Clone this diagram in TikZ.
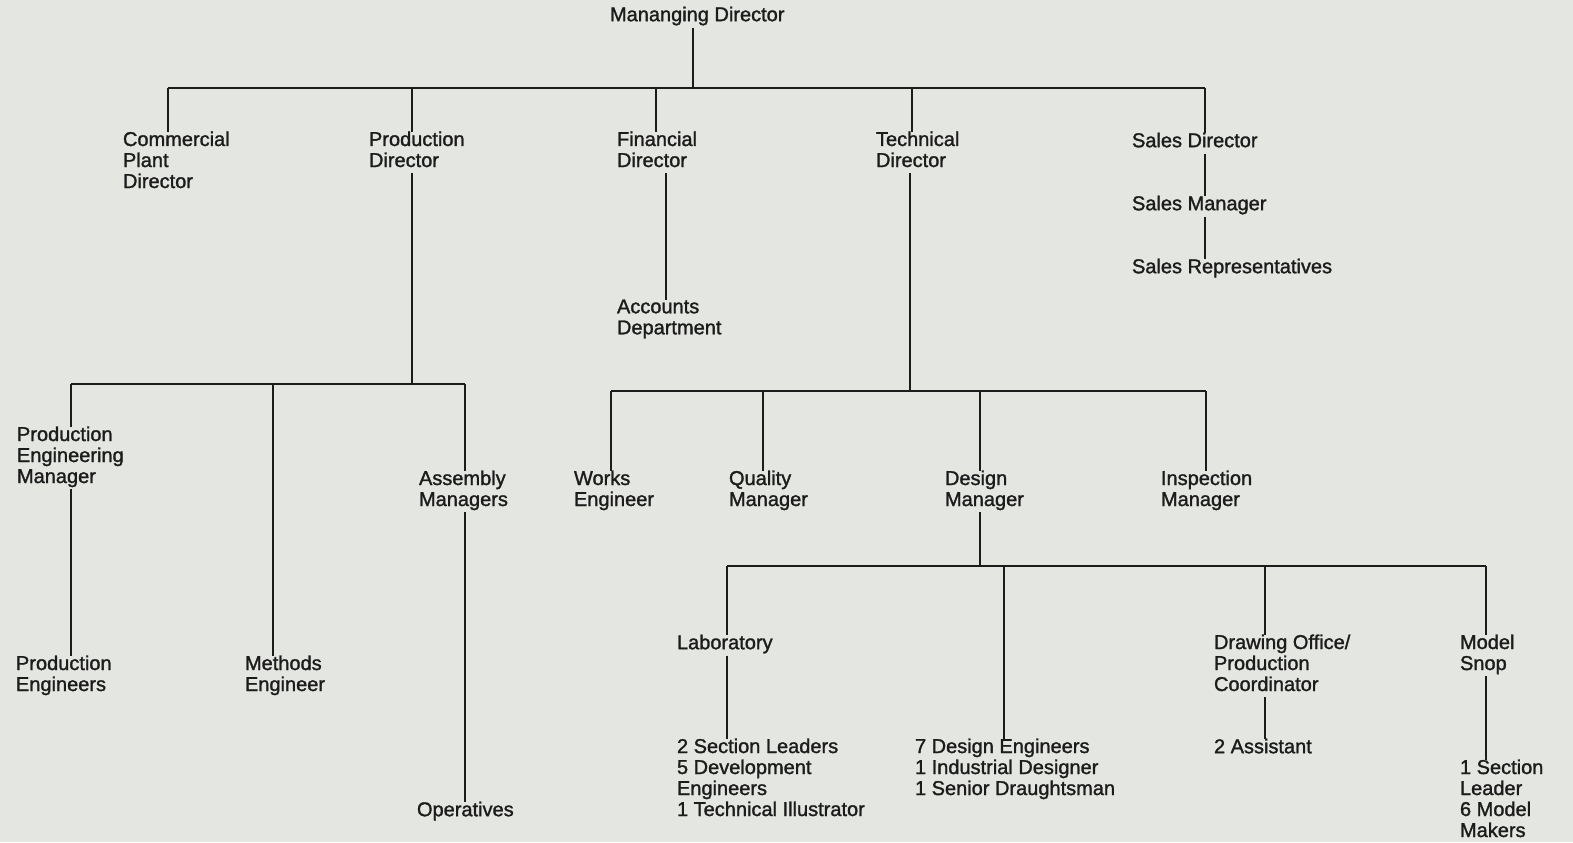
\documentclass[tikz,border=0pt]{standalone}
\usepackage{fontspec}
\setmainfont{Liberation Sans}
\newfontfamily\chartfont{Liberation Sans}[FakeBold=1.4]
\definecolor{paper}{RGB}{228,230,225}
\definecolor{ink}{RGB}{28,28,28}
\begin{document}
\begin{tikzpicture}[x=0.5pt,y=-0.5pt,
  lbl/.style={anchor=north west, inner sep=0pt, outer sep=0pt, align=left,
    text=ink, font=\chartfont\fontsize{10}{10.5}\selectfont,
    execute at begin node=\strut, execute at end node=\strut},
  wire/.style={draw=ink, line width=1.2pt}]
\fill[paper] (0,0) rectangle (1573,842);
\useasboundingbox (0,0) rectangle (1573,842);

% ---- posts (left edge, first line centre - 7.5) ----
\node[lbl] (md)   at (610,6.5)    {Mananging Director};
\node[lbl] (cpd)  at (123,131.5)  {Commercial\\Plant\\Director};
\node[lbl] (pd)   at (369,131.5)  {Production\\Director};
\node[lbl] (fd)   at (617,131.5)  {Financial\\Director};
\node[lbl] (td)   at (876,131.5)  {Technical\\Director};
\node[lbl] (sd)   at (1132,132.5) {Sales Director};
\node[lbl] (sm)   at (1132,195.5) {Sales Manager};
\node[lbl] (sr)   at (1132,258.5) {Sales Representatives};
\node[lbl] (acc)  at (617,299.5)  {Accounts\\Department};
\node[lbl] (pem)  at (17,426.5)   {Production\\Engineering\\Manager};
\node[lbl] (pe)   at (16,655.5)   {Production\\Engineers};
\node[lbl] (me)   at (245,655.5)  {Methods\\Engineer};
\node[lbl] (am)   at (419,470.5)  {Assembly\\Managers};
\node[lbl] (op)   at (417,801.5)  {Operatives};
\node[lbl] (we)   at (574,470.5)  {Works\\Engineer};
\node[lbl] (qm)   at (729,470.5)  {Quality\\Manager};
\node[lbl] (dm)   at (945,470.5)  {Design\\Manager};
\node[lbl] (im)   at (1161,470.5) {Inspection\\Manager};
\node[lbl] (lab)  at (677,634.5)  {Laboratory};
\node[lbl] (labs) at (677,738.5)  {2 Section Leaders\\5 Development\\Engineers\\1 Technical Illustrator};
\node[lbl] (des)  at (915,738.5)  {7 Design Engineers\\1 Industrial Designer\\1 Senior Draughtsman};
\node[lbl] (do)   at (1214,634.5) {Drawing Office/\\Production\\Coordinator};
\node[lbl] (asst) at (1214,738.5) {2 Assistant};
\node[lbl] (ms)   at (1460,634.5) {Model\\Snop};
\node[lbl] (msm)  at (1460,759.5) {1 Section\\Leader\\6 Model\\Makers};

% ---- board level ----
\coordinate (j-md) at (693,88);
\draw[wire] (j-md |- md.south) -- (j-md);
\foreach \n/\x in {cpd/168, pd/412, fd/656, td/912, sd/1205}{
  \coordinate (j-\n) at (\x,88);
  \draw[wire] (j-\n) -- (j-\n |- \n.north);
}
\draw[wire] (j-cpd) -- (j-sd);

% ---- sales ----
\draw[wire] (sd.south -| j-sd) -- (sm.north -| j-sd);
\draw[wire] (sm.south -| j-sd) -- (sr.north -| j-sd);

% ---- finance ----
\coordinate (fd-stem) at (666,200);
\draw[wire] (fd.south -| fd-stem) -- (acc.north -| fd-stem);

% ---- production ----
\coordinate (p-pd) at (412,384);
\draw[wire] (p-pd |- pd.south) -- (p-pd);
\foreach \n/\x in {pem/71, me/273, am/465}{
  \coordinate (p-\n) at (\x,384);
  \draw[wire] (p-\n) -- (p-\n |- \n.north);
}
\draw[wire] (p-pem) -- (p-am);
\draw[wire] (pem.south -| p-pem) -- (pe.north -| p-pem);
\draw[wire] (am.south -| p-am) -- (op.north -| p-am);

% ---- technical ----
\coordinate (t-td) at (910,391);
\draw[wire] (t-td |- td.south) -- (t-td);
\foreach \n/\x in {we/611, qm/763, dm/980, im/1206}{
  \coordinate (t-\n) at (\x,391);
  \draw[wire] (t-\n) -- (t-\n |- \n.north);
}
\draw[wire] (t-we) -- (t-im);

% ---- design ----
\coordinate (d-dm) at (980,566);
\draw[wire] (d-dm |- dm.south) -- (d-dm);
\foreach \n/\x in {lab/727, des/1004, do/1265, ms/1486}{
  \coordinate (d-\n) at (\x,566);
  \draw[wire] (d-\n) -- (d-\n |- \n.north);
}
\draw[wire] (d-lab) -- (d-ms);
\draw[wire] (lab.south -| d-lab) -- (labs.north -| d-lab);
\draw[wire] (do.south -| d-do) -- (asst.north -| d-do);
\draw[wire] (ms.south -| d-ms) -- (msm.north -| d-ms);
\end{tikzpicture}
\end{document}
